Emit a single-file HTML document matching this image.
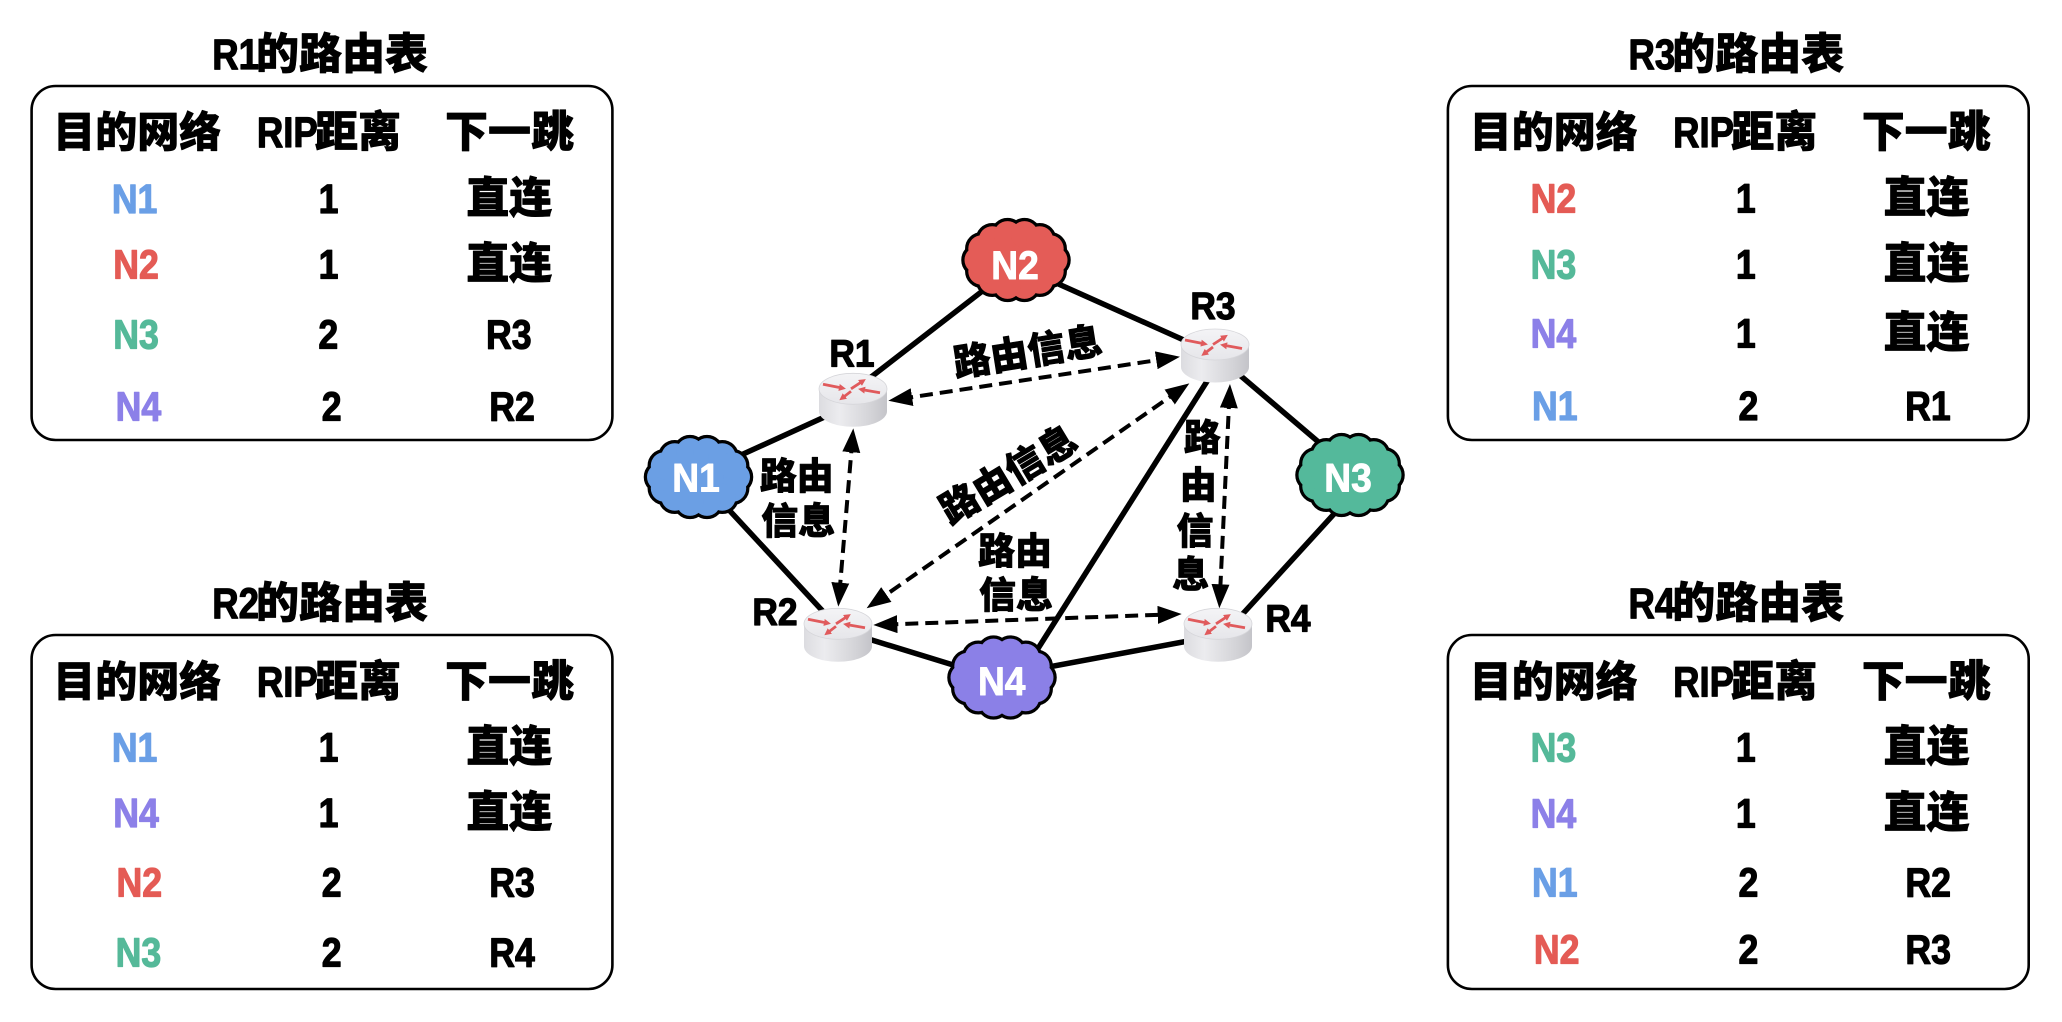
<!DOCTYPE html>
<html>
<head>
<meta charset="utf-8">
<style>
html,body{margin:0;padding:0;background:#fff;}
svg{display:block;}
text{font-family:"Liberation Sans","Noto Sans CJK SC",sans-serif;font-weight:bold;stroke:#000;stroke-width:1.2;stroke-linejoin:round;}
.cj{font-weight:900;stroke-width:0.7;}
.b{fill:#6a9fe6;stroke:#6a9fe6;}
.r{fill:#e45b55;stroke:#e45b55;}
.g{fill:#55b999;stroke:#55b999;}
.p{fill:#8c80e8;stroke:#8c80e8;}
.w{fill:#fff;stroke:#fff;stroke-width:0.9;}
</style>
</head>
<body>
<svg width="2062" height="1022" viewBox="0 0 2062 1022" xmlns="http://www.w3.org/2000/svg">
<defs>
  <marker id="ah" markerUnits="userSpaceOnUse" markerWidth="24" markerHeight="18" viewBox="0 0 24 18" refX="12" refY="9" orient="auto-start-reverse">
    <path d="M0,0 L24,9 L0,18 Z" fill="#000"/>
  </marker>
  <marker id="ra" markerUnits="userSpaceOnUse" markerWidth="7" markerHeight="7" viewBox="0 0 7 7" refX="3" refY="3.5" orient="auto">
    <path d="M0,0 L7,3.5 L0,7 Z" fill="#e05a5c"/>
  </marker>
  <linearGradient id="side" x1="0" y1="0" x2="1" y2="0">
    <stop offset="0" stop-color="#dcdce0"/>
    <stop offset="0.3" stop-color="#ececef"/>
    <stop offset="0.75" stop-color="#d4d4d8"/>
    <stop offset="1" stop-color="#c4c4c9"/>
  </linearGradient>
  <linearGradient id="topf" x1="0" y1="0" x2="0" y2="1">
    <stop offset="0" stop-color="#f4f4f6"/>
    <stop offset="1" stop-color="#e6e6ea"/>
  </linearGradient>
  <g id="cs">
    <ellipse cx="0" cy="0" rx="40" ry="28"/>
    <circle cx="38" cy="0" r="13.5"/>
    <circle cx="34.2" cy="11.3" r="13.5"/>
    <circle cx="23.7" cy="20.3" r="13.5"/>
    <circle cx="8.5" cy="25.4" r="13.5"/>
    <circle cx="-8.5" cy="25.4" r="13.5"/>
    <circle cx="-23.7" cy="20.3" r="13.5"/>
    <circle cx="-34.2" cy="11.3" r="13.5"/>
    <circle cx="-38" cy="0" r="13.5"/>
    <circle cx="-34.2" cy="-11.3" r="13.5"/>
    <circle cx="-23.7" cy="-20.3" r="13.5"/>
    <circle cx="-8.5" cy="-25.4" r="13.5"/>
    <circle cx="8.5" cy="-25.4" r="13.5"/>
    <circle cx="23.7" cy="-20.3" r="13.5"/>
    <circle cx="34.2" cy="-11.3" r="13.5"/>
  </g>
  <g id="router">
    <path d="M-34,0 L-34,22.5 A34,15.5 0 0 0 34,22.5 L34,0 Z" fill="url(#side)"/>
    <ellipse cx="0" cy="0" rx="34" ry="15.5" fill="url(#topf)" stroke="#d6d6da" stroke-width="0.8"/>
    <g stroke="#e05a5c" stroke-width="2.8" fill="none">
      <line x1="-30" y1="-4.5" x2="-11" y2="-0.8" marker-end="url(#ra)"/>
      <line x1="27" y1="4" x2="9" y2="0.8" marker-end="url(#ra)"/>
      <line x1="-2" y1="0" x2="9.5" y2="-7.5" marker-end="url(#ra)"/>
      <line x1="-2" y1="2.5" x2="-10.5" y2="9" marker-end="url(#ra)"/>
    </g>
  </g>
</defs>

<!-- ================= TABLES ================= -->
<!-- R1 table -->
<rect x="31.6" y="86" width="580.8" height="354" rx="24" fill="none" stroke="#000" stroke-width="2.6"/>
<text font-size="43" text-anchor="middle" transform="translate(235.6,69) scale(0.85,1)">R1</text>
<text class="cj" font-size="43" text-anchor="middle" x="342" y="69">的路由表</text>
<text class="cj" font-size="42" text-anchor="middle" x="137.2" y="147">目的网络</text>
<text font-size="43" text-anchor="middle" transform="translate(287.3,147) scale(0.85,1)">RIP</text>
<text class="cj" font-size="43" text-anchor="middle" x="358" y="147">距离</text>
<text class="cj" font-size="43" text-anchor="middle" x="509.5" y="147">下一跳</text>

<text class="b" font-size="41" text-anchor="middle" transform="translate(134.6,213) scale(0.87,1)">N1</text>
<text font-size="41" text-anchor="middle" transform="translate(328.5,213) scale(0.87,1)">1</text>
<text class="cj" font-size="43" text-anchor="middle" x="509.2" y="213">直连</text>

<text class="r" font-size="41" text-anchor="middle" transform="translate(136,278.3) scale(0.87,1)">N2</text>
<text font-size="41" text-anchor="middle" transform="translate(328.5,278.3) scale(0.87,1)">1</text>
<text class="cj" font-size="43" text-anchor="middle" x="509.2" y="278.3">直连</text>

<text class="g" font-size="41" text-anchor="middle" transform="translate(136,348.3) scale(0.87,1)">N3</text>
<text font-size="41" text-anchor="middle" transform="translate(328.3,348.3) scale(0.87,1)">2</text>
<text font-size="41" text-anchor="middle" transform="translate(508.8,348.3) scale(0.87,1)">R3</text>

<text class="p" font-size="41" text-anchor="middle" transform="translate(138.4,420.7) scale(0.87,1)">N4</text>
<text font-size="41" text-anchor="middle" transform="translate(331.7,420.7) scale(0.87,1)">2</text>
<text font-size="41" text-anchor="middle" transform="translate(512,420.7) scale(0.87,1)">R2</text>

<!-- R2 table -->
<rect x="31.6" y="635" width="580.8" height="354" rx="24" fill="none" stroke="#000" stroke-width="2.6"/>
<text font-size="43" text-anchor="middle" transform="translate(235.6,618) scale(0.85,1)">R2</text>
<text class="cj" font-size="43" text-anchor="middle" x="342" y="618">的路由表</text>
<text class="cj" font-size="42" text-anchor="middle" x="137.2" y="696.5">目的网络</text>
<text font-size="43" text-anchor="middle" transform="translate(287.3,696.5) scale(0.85,1)">RIP</text>
<text class="cj" font-size="43" text-anchor="middle" x="358" y="696.5">距离</text>
<text class="cj" font-size="43" text-anchor="middle" x="509.5" y="696.5">下一跳</text>

<text class="b" font-size="41" text-anchor="middle" transform="translate(134.6,761.7) scale(0.87,1)">N1</text>
<text font-size="41" text-anchor="middle" transform="translate(328.5,761.7) scale(0.87,1)">1</text>
<text class="cj" font-size="43" text-anchor="middle" x="509.2" y="761.7">直连</text>

<text class="p" font-size="41" text-anchor="middle" transform="translate(136,827) scale(0.87,1)">N4</text>
<text font-size="41" text-anchor="middle" transform="translate(328.5,827) scale(0.87,1)">1</text>
<text class="cj" font-size="43" text-anchor="middle" x="509.2" y="827">直连</text>

<text class="r" font-size="41" text-anchor="middle" transform="translate(139.3,896.7) scale(0.87,1)">N2</text>
<text font-size="41" text-anchor="middle" transform="translate(331.7,896.7) scale(0.87,1)">2</text>
<text font-size="41" text-anchor="middle" transform="translate(512,896.7) scale(0.87,1)">R3</text>

<text class="g" font-size="41" text-anchor="middle" transform="translate(138.4,966.7) scale(0.87,1)">N3</text>
<text font-size="41" text-anchor="middle" transform="translate(331.7,966.7) scale(0.87,1)">2</text>
<text font-size="41" text-anchor="middle" transform="translate(512,966.7) scale(0.87,1)">R4</text>

<!-- R3 table -->
<rect x="1447.9" y="86" width="580.8" height="354" rx="24" fill="none" stroke="#000" stroke-width="2.6"/>
<text font-size="43" text-anchor="middle" transform="translate(1651.9,69) scale(0.85,1)">R3</text>
<text class="cj" font-size="43" text-anchor="middle" x="1758.3" y="69">的路由表</text>
<text class="cj" font-size="42" text-anchor="middle" x="1553.8" y="147">目的网络</text>
<text font-size="43" text-anchor="middle" transform="translate(1703.6,147) scale(0.85,1)">RIP</text>
<text class="cj" font-size="43" text-anchor="middle" x="1774.3" y="147">距离</text>
<text class="cj" font-size="43" text-anchor="middle" x="1926.2" y="147">下一跳</text>

<text class="r" font-size="41" text-anchor="middle" transform="translate(1553.4,212.7) scale(0.87,1)">N2</text>
<text font-size="41" text-anchor="middle" transform="translate(1745.8,212.7) scale(0.87,1)">1</text>
<text class="cj" font-size="43" text-anchor="middle" x="1926.5" y="212.7">直连</text>

<text class="g" font-size="41" text-anchor="middle" transform="translate(1553.4,278.3) scale(0.87,1)">N3</text>
<text font-size="41" text-anchor="middle" transform="translate(1745.8,278.3) scale(0.87,1)">1</text>
<text class="cj" font-size="43" text-anchor="middle" x="1926.5" y="278.3">直连</text>

<text class="p" font-size="41" text-anchor="middle" transform="translate(1553.4,347.3) scale(0.87,1)">N4</text>
<text font-size="41" text-anchor="middle" transform="translate(1745.8,347.3) scale(0.87,1)">1</text>
<text class="cj" font-size="43" text-anchor="middle" x="1926.5" y="347.3">直连</text>

<text class="b" font-size="41" text-anchor="middle" transform="translate(1554.8,420) scale(0.87,1)">N1</text>
<text font-size="41" text-anchor="middle" transform="translate(1748.4,420) scale(0.87,1)">2</text>
<text font-size="41" text-anchor="middle" transform="translate(1927.9,420) scale(0.87,1)">R1</text>

<!-- R4 table -->
<rect x="1447.9" y="635" width="580.8" height="354" rx="24" fill="none" stroke="#000" stroke-width="2.6"/>
<text font-size="43" text-anchor="middle" transform="translate(1651.9,618) scale(0.85,1)">R4</text>
<text class="cj" font-size="43" text-anchor="middle" x="1758.3" y="618">的路由表</text>
<text class="cj" font-size="42" text-anchor="middle" x="1553.8" y="696.5">目的网络</text>
<text font-size="43" text-anchor="middle" transform="translate(1703.6,696.5) scale(0.85,1)">RIP</text>
<text class="cj" font-size="43" text-anchor="middle" x="1774.3" y="696.5">距离</text>
<text class="cj" font-size="43" text-anchor="middle" x="1926.2" y="696.5">下一跳</text>

<text class="g" font-size="41" text-anchor="middle" transform="translate(1553.4,761.7) scale(0.87,1)">N3</text>
<text font-size="41" text-anchor="middle" transform="translate(1745.8,761.7) scale(0.87,1)">1</text>
<text class="cj" font-size="43" text-anchor="middle" x="1926.5" y="761.7">直连</text>

<text class="p" font-size="41" text-anchor="middle" transform="translate(1553.4,827.3) scale(0.87,1)">N4</text>
<text font-size="41" text-anchor="middle" transform="translate(1745.8,827.3) scale(0.87,1)">1</text>
<text class="cj" font-size="43" text-anchor="middle" x="1926.5" y="827.3">直连</text>

<text class="b" font-size="41" text-anchor="middle" transform="translate(1554.8,896.7) scale(0.87,1)">N1</text>
<text font-size="41" text-anchor="middle" transform="translate(1748.4,896.7) scale(0.87,1)">2</text>
<text font-size="41" text-anchor="middle" transform="translate(1928.2,896.7) scale(0.87,1)">R2</text>

<text class="r" font-size="41" text-anchor="middle" transform="translate(1556.7,963.3) scale(0.87,1)">N2</text>
<text font-size="41" text-anchor="middle" transform="translate(1748.4,963.3) scale(0.87,1)">2</text>
<text font-size="41" text-anchor="middle" transform="translate(1928.2,963.3) scale(0.87,1)">R3</text>

<!-- ================= NETWORK DIAGRAM ================= -->
<!-- solid links -->
<g stroke="#000" stroke-width="5.5" stroke-linecap="butt" fill="none">
  <line x1="1020" y1="262" x2="853" y2="391"/>
  <line x1="1016" y1="265" x2="1215" y2="354"/>
  <line x1="853" y1="404" x2="698.5" y2="474.4"/>
  <line x1="698.5" y1="477" x2="838" y2="627.6"/>
  <line x1="838" y1="629.6" x2="1002" y2="680"/>
  <line x1="1002" y1="675.7" x2="1218" y2="635.4"/>
  <line x1="1020" y1="677" x2="1211" y2="375"/>
  <line x1="1215" y1="354" x2="1350" y2="468.8"/>
  <line x1="1360" y1="485.5" x2="1225" y2="633.3"/>
</g>

<!-- clouds -->
<g transform="translate(698.5,477)">
  <use href="#cs" fill="#000" stroke="#000" stroke-width="6.5"/>
  <use href="#cs" fill="#6b9fe4"/>
</g>
<g transform="translate(1016,260)">
  <use href="#cs" fill="#000" stroke="#000" stroke-width="6.5"/>
  <use href="#cs" fill="#e45c57"/>
</g>
<g transform="translate(1350,475)">
  <use href="#cs" fill="#000" stroke="#000" stroke-width="6.5"/>
  <use href="#cs" fill="#54b99b"/>
</g>
<g transform="translate(1002,677.5)">
  <use href="#cs" fill="#000" stroke="#000" stroke-width="6.5"/>
  <use href="#cs" fill="#8b80e7"/>
</g>

<!-- cloud labels -->
<text class="w" font-size="40" text-anchor="middle" transform="translate(696,491.7) scale(0.93,1)">N1</text>
<text class="w" font-size="40" text-anchor="middle" transform="translate(1015,279) scale(0.93,1)">N2</text>
<text class="w" font-size="40" text-anchor="middle" transform="translate(1348,491.7) scale(0.93,1)">N3</text>
<text class="w" font-size="40" text-anchor="middle" transform="translate(1001.7,695) scale(0.93,1)">N4</text>

<!-- routers -->
<use href="#router" transform="translate(853,388.8)"/>
<use href="#router" transform="translate(838,623.8)"/>
<use href="#router" transform="translate(1215,344.5)"/>
<use href="#router" transform="translate(1218,623.8)"/>

<!-- router labels -->
<text font-size="38" text-anchor="middle" transform="translate(852,366.7) scale(0.93,1)">R1</text>
<text font-size="38" text-anchor="middle" transform="translate(775,625) scale(0.93,1)">R2</text>
<text font-size="38" text-anchor="middle" transform="translate(1213,319) scale(0.93,1)">R3</text>
<text font-size="38" text-anchor="middle" transform="translate(1288,631.7) scale(0.93,1)">R4</text>

<!-- dashed bidirectional arrows -->
<g stroke="#000" stroke-width="4" stroke-dasharray="13 7" fill="none" marker-start="url(#ah)" marker-end="url(#ah)">
  <line x1="900.2" y1="398.9" x2="1168.1" y2="358.5"/>
  <line x1="1179.5" y1="390.2" x2="876.5" y2="601.4"/>
  <line x1="852.3" y1="440.3" x2="839.3" y2="594.7"/>
  <line x1="1229.4" y1="396" x2="1219.9" y2="596.3"/>
  <line x1="885.3" y1="624.6" x2="1169.7" y2="614.4"/>
</g>

<!-- 路由信息 labels -->
<g transform="translate(1027.5,351) rotate(-9)">
  <text class="cj" font-size="37.5" text-anchor="middle" x="0" y="14.2">路由信息</text>
</g>
<g transform="translate(1007.9,473.7) rotate(-31)">
  <text class="cj" font-size="38" text-anchor="middle" x="0" y="14.4">路由信息</text>
</g>
<text class="cj" font-size="37" text-anchor="middle" x="796.7" y="489.2">路由</text>
<text class="cj" font-size="37" text-anchor="middle" x="798.3" y="534.2">信息</text>

<text class="cj" font-size="37" text-anchor="middle" x="1202.3" y="450.7">路</text>
<text class="cj" font-size="37" text-anchor="middle" x="1198.3" y="498.2">由</text>
<text class="cj" font-size="37" text-anchor="middle" x="1195" y="544.2">信</text>
<text class="cj" font-size="37" text-anchor="middle" x="1190.8" y="587.5">息</text>

<text class="cj" font-size="37" text-anchor="middle" x="1015" y="564.2">路由</text>
<text class="cj" font-size="37" text-anchor="middle" x="1016" y="608.2">信息</text>
</svg>
</body>
</html>
